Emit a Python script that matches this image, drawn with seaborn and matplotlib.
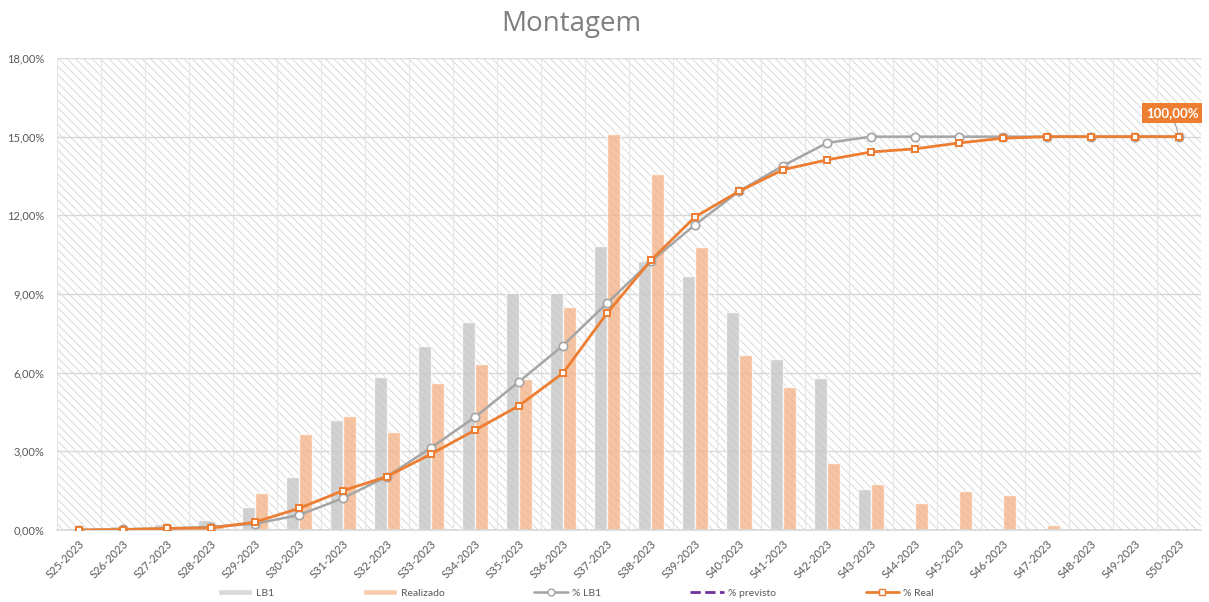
import numpy as np
import pandas as pd
import matplotlib
matplotlib.use("Agg")
import matplotlib.pyplot as plt
import seaborn as sns
from matplotlib.lines import Line2D
from matplotlib.patches import Rectangle, Patch
from matplotlib.ticker import FuncFormatter

# weekly values (bars in %, lines = cumulative %)
semanas = ["S25-2023", "S26-2023", "S27-2023", "S28-2023", "S29-2023", "S30-2023",
           "S31-2023", "S32-2023", "S33-2023", "S34-2023", "S35-2023", "S36-2023",
           "S37-2023", "S38-2023", "S39-2023", "S40-2023", "S41-2023", "S42-2023",
           "S43-2023", "S44-2023", "S45-2023", "S46-2023", "S47-2023", "S48-2023",
           "S49-2023", "S50-2023"]
lb1 = [0, 0.16, 0.23, 0.37, 0.87, 2.03, 4.19, 5.85, 7.01, 7.94, 9.05, 9.05, 10.83,
       10.27, 9.69, 8.30, 6.51, 5.79, 1.58, 0, 0, 0, 0, 0, 0, 0]
realizado = [0, 0.03, 0.12, 0.10, 1.40, 3.65, 4.36, 3.74, 5.62, 6.33, 5.76, 8.51, 15.10,
             13.57, 10.79, 6.67, 5.44, 2.57, 1.75, 1.04, 1.49, 1.35, 0.19, 0, 0, 0]
pct_lb1 = [0, 0.2, 0.4, 0.8, 1.6, 3.8, 8.1, 13.6, 20.9, 28.7, 37.7, 46.9, 57.7,
           68.3, 77.6, 86.1, 92.6, 98.4, 100, 100, 100, 100, 100, 100, 100, 100]
pct_real = [0, 0.1, 0.4, 0.5, 2.0, 5.5, 10.0, 13.6, 19.3, 25.4, 31.6, 39.9, 55.1,
            68.6, 79.6, 86.1, 91.6, 94.1, 96.1, 96.9, 98.4, 99.6, 100, 100, 100, 100]

sns.set_theme(style="white")
plt.rcParams["font.family"] = ["Lato", "DejaVu Sans"]
plt.rcParams["hatch.linewidth"] = 0.6
plt.rcParams["hatch.color"] = "#D4D4D4"

W, H = 1209, 602
fig = plt.figure(figsize=(W / 100, H / 100), dpi=100)
ax = fig.add_axes([57 / W, 1 - 530 / H, 1144 / W, 472 / H])

# hatched plot area background
ax.add_patch(Rectangle((0, 0), 1, 1, transform=ax.transAxes, facecolor="white",
                       edgecolor="#D4D4D4", hatch="\\\\\\\\", lw=0, zorder=0))

df = pd.DataFrame({
    "semana": semanas * 2,
    "valor": lb1 + realizado,
    "serie": ["LB1"] * len(semanas) + ["Realizado"] * len(semanas),
})
sns.barplot(data=df, x="semana", y="valor", hue="serie",
            palette={"LB1": "#C4C4C4", "Realizado": "#F4B183"},
            width=0.57, saturation=1, alpha=0.75, legend=False, ax=ax, zorder=2)

ax.set_ylim(0, 18)
ax.set_yticks(np.arange(0, 19, 3))
ax.yaxis.set_major_formatter(FuncFormatter(lambda v, _: f"{v:.2f}%".replace(".", ",")))
ax.set_xlim(-0.5, len(semanas) - 0.5)
ax.set_xticks(np.arange(-0.5, len(semanas)), minor=True)
ax.set_axisbelow(True)
ax.grid(axis="y", which="major", color="#D9D9D9", lw=1)
ax.grid(axis="x", which="minor", color="#E6E6E6", lw=0.8)
ax.grid(axis="x", which="major", visible=False)
ax.set_xlabel("")
ax.set_ylabel("")
ax.set_xticks(np.arange(len(semanas)))
ax.set_xticklabels(semanas, rotation=45, ha="right", va="top", rotation_mode="anchor")
ax.tick_params(axis="x", which="both", length=0, pad=6, labelsize=8, labelcolor="#595959")
ax.tick_params(axis="y", which="both", length=0, pad=9, labelsize=8, labelcolor="#595959")
for s in ["top", "left", "right"]:
    ax.spines[s].set_visible(False)
ax.spines["bottom"].set_color("#D9D9D9")

# cumulative lines on hidden secondary axis (100% lines up with 15%)
ax2 = ax.twinx()
pos = np.arange(len(semanas))
sns.lineplot(x=pos, y=pct_lb1, ax=ax2, color="#A5A5A5", lw=1.8, marker="o",
             markersize=6, markerfacecolor="white", markeredgecolor="#A5A5A5",
             markeredgewidth=1.2)
sns.lineplot(x=pos, y=pct_real, ax=ax2, color="#ED7D31", lw=2, marker="s",
             markersize=5, markerfacecolor="white", markeredgecolor="#ED7D31",
             markeredgewidth=1.4)
ax2.set_ylim(0, 120)
ax2.set_yticks([])
ax2.grid(False)
for s in ax2.spines.values():
    s.set_visible(False)

ax2.annotate("100,00%", xy=(pos[-1], pct_real[-1]), xytext=(-5, 17),
             textcoords="offset points", ha="center", va="center", color="white",
             fontsize=9.5, fontweight="bold",
             bbox=dict(boxstyle="square,pad=0.3", fc="#ED7D31", ec="none"),
             arrowprops=dict(arrowstyle="-", color="#A5A5A5", lw=0.8, shrinkA=0, shrinkB=3))

fig.text(571 / W, 1 - 24 / H, "Montagem", ha="center", va="center",
         fontsize=20, color="#7F7F7F", family=["Open Sans", "DejaVu Sans"])

handles = [
    Patch(facecolor="#D9D9D9", label="LB1"),
    Patch(facecolor="#F8CBAD", label="Realizado"),
    Line2D([], [], color="#A5A5A5", lw=1.8, marker="o", markersize=5,
           markerfacecolor="white", markeredgecolor="#A5A5A5", label="% LB1"),
    Line2D([], [], color="#7030A0", lw=2, ls="--", label="% previsto"),
    Line2D([], [], color="#ED7D31", lw=2, marker="s", markersize=5,
           markerfacecolor="white", markeredgecolor="#ED7D31", label="% Real"),
]
fig.legend(handles=handles, loc="center left", bbox_to_anchor=(213 / W, 1 - 593 / H),
           ncol=5, frameon=False, fontsize=7.5, handlelength=3.2, handleheight=0.6,
           columnspacing=8.6, handletextpad=0.4, borderpad=0, labelcolor="#595959")

fig.savefig("out.png", dpi=100)
